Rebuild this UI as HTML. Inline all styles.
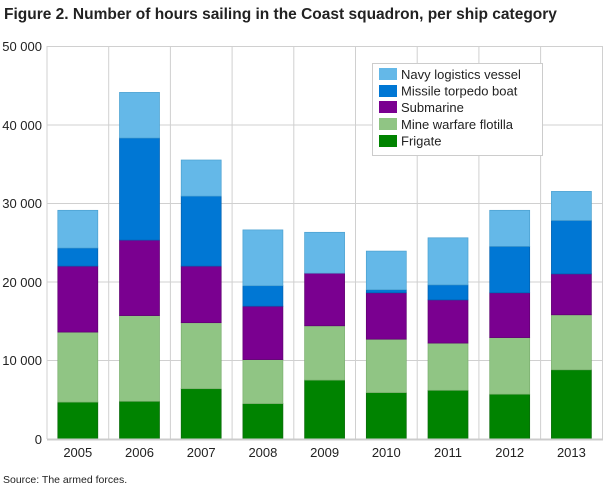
<!DOCTYPE html>
<html><head><style>
body{margin:0;background:#fff;width:610px;height:488px;overflow:hidden}
svg text{font-family:"Liberation Sans",sans-serif;fill:#222}
.f{fill:#008300;stroke:#0a6a0a;stroke-width:.7}
.m{fill:#90c584;stroke:#7aae6e;stroke-width:.7}
.s{fill:#7a0090;stroke:#5e0070;stroke-width:.7}
.t{fill:#0077d4;stroke:#0060b0;stroke-width:.7}
.n{fill:#64b8e8;stroke:#4aa0d0;stroke-width:.7}
</style></head><body>
<svg width="610" height="488" xmlns="http://www.w3.org/2000/svg">
<text x="4" y="19" font-size="15.5" font-weight="bold" fill="#333">Figure 2. Number of hours sailing in the Coast squadron, per ship category</text>
<g stroke="#d0d0d0" stroke-width="1">
<line x1="47" y1="46.5" x2="603" y2="46.5"/>
<line x1="47" y1="125" x2="603" y2="125"/>
<line x1="47" y1="203.5" x2="603" y2="203.5"/>
<line x1="47" y1="282" x2="603" y2="282"/>
<line x1="47" y1="360.5" x2="603" y2="360.5"/>
<line x1="108.7" y1="46" x2="108.7" y2="439"/>
<line x1="170.4" y1="46" x2="170.4" y2="439"/>
<line x1="232.1" y1="46" x2="232.1" y2="439"/>
<line x1="293.8" y1="46" x2="293.8" y2="439"/>
<line x1="355.5" y1="46" x2="355.5" y2="439"/>
<line x1="417.2" y1="46" x2="417.2" y2="439"/>
<line x1="478.9" y1="46" x2="478.9" y2="439"/>
<line x1="540.6" y1="46" x2="540.6" y2="439"/>
<line x1="602.5" y1="46" x2="602.5" y2="439"/>
<line x1="47" y1="46" x2="47" y2="439"/>
</g>
<g font-size="13" text-anchor="end">
<text x="42" y="51">50 000</text><text x="42" y="130">40 000</text><text x="42" y="208">30 000</text><text x="42" y="287">20 000</text><text x="42" y="365">10 000</text><text x="42" y="444">0</text>
</g>
<g>
<rect class="f" x="57.8" y="402.1" width="40" height="36.9"/><rect class="m" x="57.8" y="332.1" width="40" height="70"/><rect class="s" x="57.8" y="266.1" width="40" height="66"/><rect class="t" x="57.8" y="248" width="40" height="18.1"/><rect class="n" x="57.8" y="210.3" width="40" height="37.7"/>
<rect class="f" x="119.5" y="401.3" width="40" height="37.7"/><rect class="m" x="119.5" y="315.6" width="40" height="85.7"/><rect class="s" x="119.5" y="240.1" width="40" height="75.5"/><rect class="t" x="119.5" y="138" width="40" height="102.1"/><rect class="n" x="119.5" y="92.4" width="40" height="45.6"/>
<rect class="f" x="181.2" y="388.7" width="40" height="50.3"/><rect class="m" x="181.2" y="322.7" width="40" height="66"/><rect class="s" x="181.2" y="266.1" width="40" height="56.6"/><rect class="t" x="181.2" y="196.1" width="40" height="70"/><rect class="n" x="181.2" y="160" width="40" height="36.1"/>
<rect class="f" x="242.9" y="403.6" width="40" height="35.4"/><rect class="m" x="242.9" y="359.6" width="40" height="44"/><rect class="s" x="242.9" y="306.2" width="40" height="53.4"/><rect class="t" x="242.9" y="285.7" width="40" height="20.5"/><rect class="n" x="242.9" y="229.9" width="40" height="55.8"/>
<rect class="f" x="304.6" y="380.1" width="40" height="58.9"/><rect class="m" x="304.6" y="325.8" width="40" height="54.3"/><rect class="s" x="304.6" y="273.2" width="40" height="52.6"/><rect class="n" x="304.6" y="232.3" width="40" height="40.9"/>
<rect class="f" x="366.3" y="392.6" width="40" height="46.4"/><rect class="m" x="366.3" y="339.2" width="40" height="53.4"/><rect class="s" x="366.3" y="292.8" width="40" height="46.4"/><rect class="t" x="366.3" y="289.7" width="40" height="3.1"/><rect class="n" x="366.3" y="251.1" width="40" height="38.6"/>
<rect class="f" x="428" y="390.3" width="40" height="48.7"/><rect class="m" x="428" y="343.1" width="40" height="47.2"/><rect class="s" x="428" y="299.9" width="40" height="43.2"/><rect class="t" x="428" y="284.9" width="40" height="15"/><rect class="n" x="428" y="237.8" width="40" height="47.1"/>
<rect class="f" x="489.7" y="394.2" width="40" height="44.8"/><rect class="m" x="489.7" y="337.6" width="40" height="56.6"/><rect class="s" x="489.7" y="292.8" width="40" height="44.8"/><rect class="t" x="489.7" y="246.4" width="40" height="46.4"/><rect class="n" x="489.7" y="210.3" width="40" height="36.1"/>
<rect class="f" x="551.4" y="369.8" width="40" height="69.2"/><rect class="m" x="551.4" y="314.8" width="40" height="55"/><rect class="s" x="551.4" y="273.9" width="40" height="40.9"/><rect class="t" x="551.4" y="220.5" width="40" height="53.4"/><rect class="n" x="551.4" y="191.4" width="40" height="29.1"/>
</g>
<line x1="47" y1="439.5" x2="603" y2="439.5" stroke="#ccc" stroke-width="2"/>
<g font-size="13" text-anchor="middle">
<text x="77.8" y="457">2005</text><text x="139.5" y="457">2006</text><text x="201.2" y="457">2007</text><text x="262.9" y="457">2008</text><text x="324.6" y="457">2009</text><text x="386.3" y="457">2010</text><text x="448" y="457">2011</text><text x="509.7" y="457">2012</text><text x="571.4" y="457">2013</text>
</g>
<text x="3" y="483" font-size="10.5">Source: The armed forces.</text>
<rect x="372.5" y="63.5" width="170" height="92" fill="#fff" stroke="#ccc"/>
<g font-size="13">
<rect x="379" y="68" width="18" height="12" fill="#64b8e8"/><text x="401" y="79">Navy logistics vessel</text>
<rect x="379" y="85" width="18" height="12" fill="#0077d4"/><text x="401" y="95.5">Missile torpedo boat</text>
<rect x="379" y="101" width="18" height="12" fill="#7a0090"/><text x="401" y="112">Submarine</text>
<rect x="379" y="118" width="18" height="12" fill="#90c584"/><text x="401" y="129">Mine warfare flotilla</text>
<rect x="379" y="135" width="18" height="12" fill="#008300"/><text x="401" y="145.5">Frigate</text>
</g>
</svg>
</body></html>
